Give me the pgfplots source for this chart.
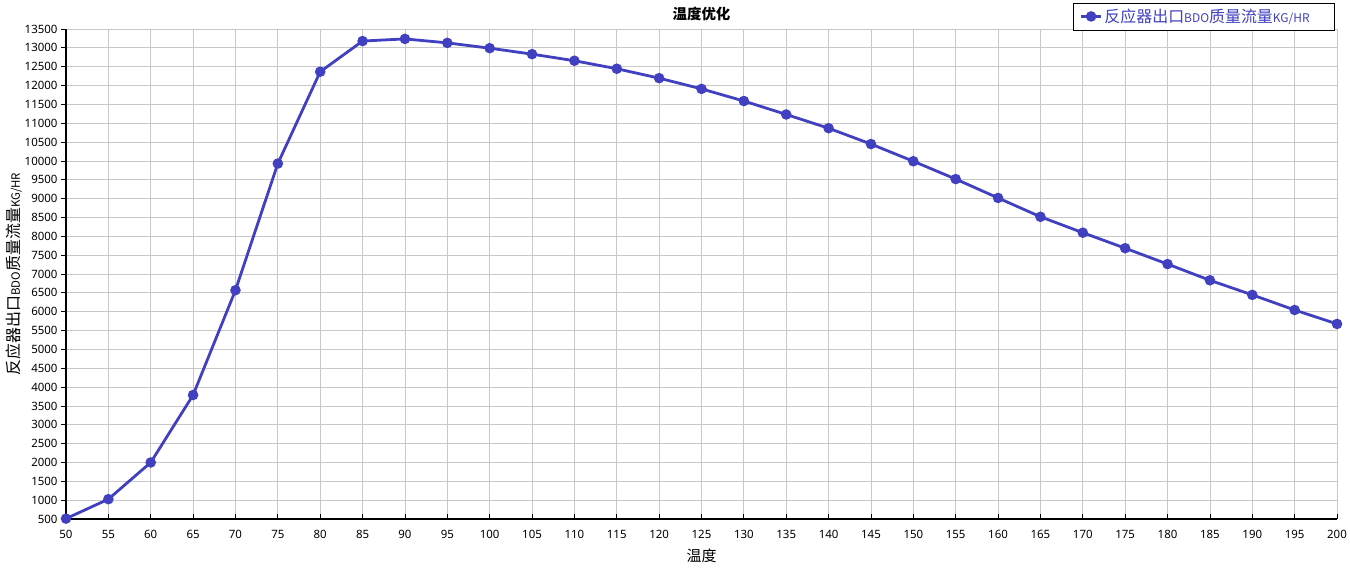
\documentclass[border=0pt]{standalone}
\usepackage{fontspec}
\setmainfont{Noto Sans}
\newfontfamily\cjk{Noto Sans CJK SC}
\usepackage{pgfplots}
\pgfplotsset{compat=1.18}
\definecolor{ln}{RGB}{64,64,192}
\definecolor{gr}{RGB}{200,200,200}
\begin{document}
\begin{tikzpicture}
\begin{axis}[
  at={(0,0)}, anchor=south west,
  scale only axis, width=1271bp, height=490bp,
  xmin=50, xmax=200, ymin=500, ymax=13500,
  xtick distance=5, ytick distance=500,
  scaled ticks=false,
  axis x line=bottom, axis y line=left,
  axis line style={-, black, line width=1.2bp},
  grid=major, grid style={gr, line width=0.8bp},
  tick style={black, line width=0.8bp},
  major tick length=5bp,
  xtick align=inside, ytick align=outside,
  clip=false,
  /pgf/number format/assume math mode=true,
  /pgf/number format/set thousands separator={},
  ticklabel style={font=\fontsize{11.5}{13}\selectfont},
  xticklabel style={yshift=-8bp},
  title={\cjk\bfseries\fontsize{14.5}{16}\selectfont 温度优化},
  title style={at={(0.5,1)}, anchor=south, yshift=-1bp},
  xlabel={\cjk\fontsize{15}{17}\selectfont 温度},
  xlabel style={yshift=-3bp},
  ylabel={\cjk\fontsize{16}{18}\selectfont 反应器出口{\fontsize{11.5}{13}\selectfont BDO}质量流量{\fontsize{11.5}{13}\selectfont KG/HR}},
  ylabel style={yshift=-4bp},
  legend style={at={(axis description cs:0.9984,1.054)}, anchor=north east,
    draw=black, line width=0.8bp, fill=white, inner xsep=6bp, inner ysep=4bp,
    font=\fontsize{16}{18}\selectfont, text=ln},
  legend cell align=left,
  legend image code/.code={\draw[mark repeat=2, mark phase=2, #1] plot coordinates {(0bp,0bp) (10bp,0bp) (20bp,0bp)};},
]
\addplot[ln, line width=2.8bp, mark=*, mark size=3.8bp, mark options={solid, fill=ln, draw=ln}] coordinates {
(50,510) (55,1026) (60,2000) (65,3789) (70,6570) (75,9930) (80,12366) (85,13180)
(90,13237) (95,13132) (100,12991) (105,12833) (110,12658) (115,12446) (120,12196)
(125,11911) (130,11589) (135,11232) (140,10868) (145,10447) (150,9991) (155,9518)
(160,9018) (165,8518) (170,8096) (175,7684) (180,7263) (185,6833) (190,6446)
(195,6045) (200,5675)
};
\addlegendentry{\cjk 反应器出口{\fontsize{12}{13}\selectfont BDO}质量流量{\fontsize{12}{13}\selectfont KG/HR}\hspace*{17bp}}
\end{axis}
\pgfresetboundingbox
\path (-66bp,-52bp) rectangle (1284bp,519bp);
\end{tikzpicture}
\end{document}
